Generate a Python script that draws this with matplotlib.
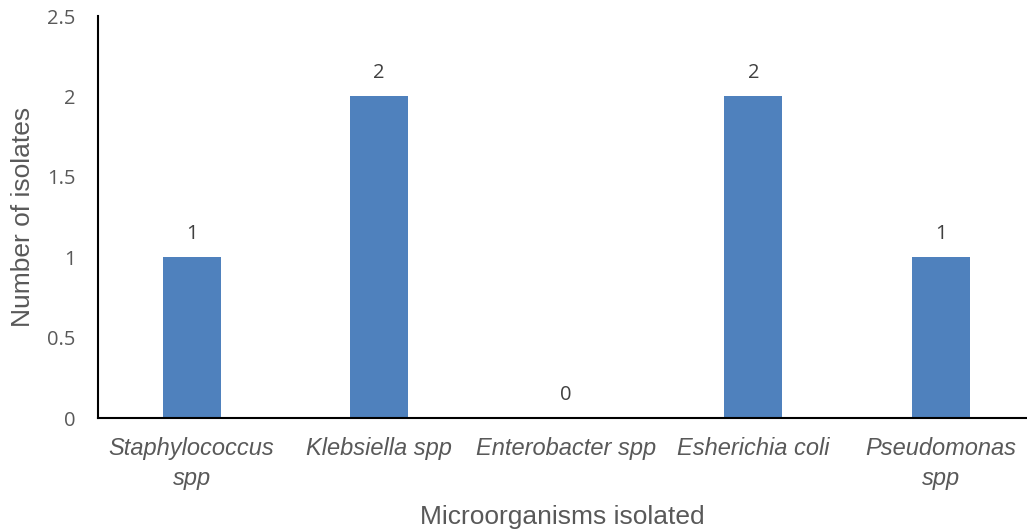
import matplotlib
matplotlib.use('Agg')
import matplotlib.pyplot as plt

# data
organisms = ['Staphylococcus\nspp', 'Klebsiella spp', 'Enterobacter spp',
             'Esherichia coli', 'Pseudomonas\nspp']
isolates = [1, 2, 0, 2, 1]
yticks = [0, 0.5, 1, 1.5, 2, 2.5]
ytick_labels = ['0', '0.5', '1', '1.5', '2', '2.5']

bar_color = '#4F81BD'
text_gray = '#595959'

fig = plt.figure(figsize=(10.27, 5.32), dpi=100)
ax = fig.add_axes([98 / 1027, 114 / 532, 929 / 1027, 402 / 532])

x = list(range(len(organisms)))
bars = ax.bar(x, isolates, width=0.31, color=bar_color)

for xi, v in zip(x, isolates):
    ax.annotate(str(v), (xi, v), xytext=(0, 23), textcoords='offset pixels',
                ha='center', va='center', fontsize=14.5,
                family='Open Sans', color='#404040')

ax.set_xlim(-0.5, -0.5 + 929 / 187.25)
ax.set_ylim(0, 2.5)

ax.set_yticks(yticks)
ax.set_yticklabels(ytick_labels, family='Open Sans', fontsize=14.5, color=text_gray)
ax.set_xticks(x)
ax.set_xticklabels(organisms, family='Liberation Sans', style='italic',
                   fontsize=17, color=text_gray, linespacing=1.35)
ax.tick_params(axis='y', length=0, pad=16)
ax.tick_params(axis='x', length=0, pad=14)

ax.set_ylabel('Number of isolates', family='Liberation Sans', fontsize=19,
              color=text_gray)
ax.yaxis.label.set_va('center')
ax.yaxis.set_label_coords(-75 / 929, 0.5)
ax.set_xlabel('Microorganisms isolated', family='Liberation Sans', fontsize=19,
              color=text_gray, labelpad=11)

for s in ['top', 'right']:
    ax.spines[s].set_visible(False)
ax.spines['left'].set_linewidth(1.5)
ax.spines['bottom'].set_linewidth(1.5)

fig.savefig('out.png', dpi=100)
